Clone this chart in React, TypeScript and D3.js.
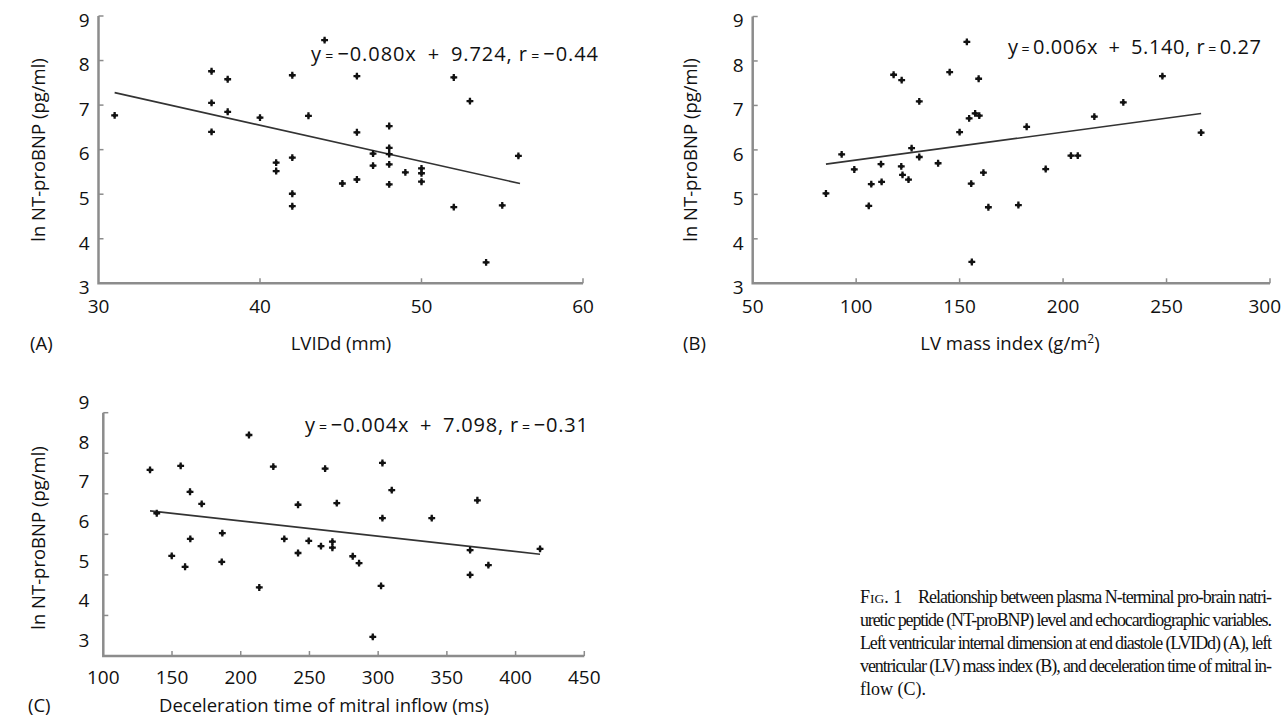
import React from "react";
import * as d3 from "d3";

// panel A: LVIDd (mm) vs ln NT-proBNP
const lvidX = [31, 37, 37, 37, 38, 38, 40, 41, 41, 42, 42, 42, 42, 43, 44, 45.1, 46, 46, 46, 47, 47, 48, 48, 48, 48, 48, 49, 50, 50, 50, 52, 52, 53, 54, 55, 56];
const lvidY = [6.77, 7.76, 7.05, 6.4, 7.58, 6.85, 6.72, 5.71, 5.52, 7.67, 5.82, 5.01, 4.73, 6.76, 8.46, 5.24, 7.65, 6.39, 5.33, 5.91, 5.64, 6.53, 6.04, 5.9, 5.67, 5.22, 5.49, 5.58, 5.47, 5.28, 7.62, 4.71, 7.09, 3.47, 4.75, 5.86];
const lvidFitX = [31, 56.1];
const lvidFitY = [7.28, 5.24];

// panel B: LV mass index (g/m2)
const massX = [85.4, 93, 99.1, 106.1, 107.3, 112, 112.3, 118.1, 122, 121.8, 122.4, 125.3, 126.8, 130.5, 130.5, 139.6, 145.2, 150, 153.5, 154.6, 155.6, 155.9, 157.5, 159.5, 159.2, 161.5, 163.9, 178.4, 182.4, 191.6, 203.8, 207.1, 215.1, 229.1, 248, 266.7];
const massY = [5.02, 5.9, 5.56, 4.74, 5.23, 5.68, 5.28, 7.69, 7.57, 5.63, 5.44, 5.33, 6.04, 5.84, 7.09, 5.7, 7.75, 6.4, 8.43, 6.71, 5.24, 3.48, 6.82, 6.77, 7.6, 5.49, 4.71, 4.76, 6.52, 5.57, 5.87, 5.87, 6.75, 7.07, 7.66, 6.39];
const massFitX = [85.4, 266.7];
const massFitY = [5.68, 6.82];

// panel C: deceleration time (ms)
const decX = [134, 138.9, 149.8, 156.3, 159.5, 163.1, 163.3, 171.6, 186.2, 186.6, 206, 213.5, 223.7, 231.7, 241.7, 241.7, 249.5, 258.4, 261.4, 266.7, 266.7, 269.9, 281.5, 286.1, 296.1, 302.1, 303.1, 303.1, 309.9, 339, 366.9, 366.9, 372.2, 380.2, 417.8];
const decY = [7.59, 6.52, 5.47, 7.69, 5.2, 7.05, 5.89, 6.75, 5.32, 6.03, 8.45, 4.69, 7.67, 5.89, 6.73, 5.54, 5.84, 5.71, 7.62, 5.82, 5.67, 6.77, 5.46, 5.29, 3.47, 4.73, 7.76, 6.4, 7.09, 6.4, 5.61, 5, 6.84, 5.24, 5.64];
const decFitX = [134, 417.8];
const decFitY = [6.58, 5.51];

const yTicks = [3, 4, 5, 6, 7, 8, 9];
const lvidTicks = [30, 40, 50, 60];
const massTicks = [50, 100, 150, 200, 250, 300];
const decTicks = [100, 150, 200, 250, 300, 350, 400, 450];

const captionLines = [
  "uretic peptide (NT-proBNP) level and echocardiographic variables.",
  "Left ventricular internal dimension at end diastole (LVIDd) (A), left",
  "ventricular (LV) mass index (B), and deceleration time of mitral in-",
];

const sans = "'Open Sans', 'Noto Sans', sans-serif";
const serif = "'Liberation Serif', 'Times New Roman', serif";
const axisColor = "#8c8c8c";
const W = 1283;

const Eq = ({ parts }: { parts: string[] }) => (
  <>
    {parts.map((p, i) =>
      p === "=" ? (
        <tspan key={i} fontSize={14}>{"\u2009=\u2009"}</tspan>
      ) : (
        <tspan key={i}>{p}</tspan>
      )
    )}
  </>
);

type PanelProps = {
  xs: number[];
  ys: number[];
  fitX: number[];
  fitY: number[];
  xDomain: [number, number];
  xRange: [number, number];
  yRange: [number, number];
  xTicks: number[];
  labelShift?: [number, number];
  eq: string[];
  eqX: number;
  eqY: number;
  eqW: number;
};

const Panel = (p: PanelProps) => {
  const x = d3.scaleLinear().domain(p.xDomain).range(p.xRange);
  const y = d3.scaleLinear().domain([3, 9]).range(p.yRange);
  // tick labels in panel C sit off the ticks, as in the original figure
  const yl = p.labelShift
    ? d3.scaleLinear().domain([3, 9]).range(p.labelShift)
    : (v: number) => y(v) + 4;
  const x0 = p.xRange[0];
  const yb = p.yRange[0];
  const line = d3
    .line<number>()
    .x((d) => x(d))
    .y((_, i) => y(p.fitY[i]));
  const sym = d3.symbol(d3.symbolCross).size(26)();
  const xLabelGap = p.labelShift ? 28 : 30;
  return (
    <g>
      <path
        d={`M${x0},${p.yRange[1]}V${yb}H${p.xRange[1]}`}
        fill="none"
        stroke={axisColor}
        strokeWidth={2.5}
      />
      {yTicks.slice(1).map((t) => (
        <line key={"yt" + t} x1={x0} x2={x0 + 5} y1={y(t)} y2={y(t)} stroke={axisColor} strokeWidth={1.5} />
      ))}
      {p.xTicks.slice(1).map((t) => (
        <line key={"xt" + t} x1={x(t)} x2={x(t)} y1={yb} y2={yb - 5} stroke={axisColor} strokeWidth={1.5} />
      ))}
      {yTicks.map((t) => (
        <text key={"yl" + t} x={p.labelShift ? x0 - 14 : x0 - 9} y={yl(t)} dy="0.36em" textAnchor="end" fontSize={19}>
          {t}
        </text>
      ))}
      {p.xTicks.map((t) => {
        const cx = x(t);
        const edge = cx + 17 > W;
        return (
          <text
            key={"xl" + t}
            x={edge ? W - 2 : cx}
            y={yb + xLabelGap}
            textAnchor={edge ? "end" : "middle"}
            fontSize={19}
          >
            {t}
          </text>
        );
      })}
      <path d={line(p.fitX) || ""} fill="none" stroke="#333" strokeWidth={1.6} />
      {p.xs.map((v, i) => (
        <g key={i} transform={`translate(${x(v)},${y(p.ys[i])})`}>
          <circle r={1.9} fill="#111" />
          <path d={sym} fill="#111" />
        </g>
      ))}
      <text x={p.eqX} y={p.eqY} fontSize={20} textLength={p.eqW} lengthAdjust="spacing">
        <Eq parts={p.eq} />
      </text>
    </g>
  );
};

const App = () => {
  return (
    <svg
      width={W}
      height={719}
      style={{ position: "absolute", left: 0, top: 0, background: "#fff" }}
      fontFamily={sans}
      fill="#111"
    >
      <Panel
        xs={lvidX}
        ys={lvidY}
        fitX={lvidFitX}
        fitY={lvidFitY}
        xDomain={[30, 60]}
        xRange={[98.5, 583]}
        yRange={[283.3, 16]}
        xTicks={lvidTicks}
        eq={["y", "=", "\u22120.080x\u2002+\u20029.724, r", "=", "\u22120.44"]}
        eqX={311}
        eqY={61}
        eqW={287}
      />
      <Panel
        xs={massX}
        ys={massY}
        fitX={massFitX}
        fitY={massFitY}
        xDomain={[50, 300]}
        xRange={[752.7, 1270]}
        yRange={[283.3, 16.5]}
        xTicks={massTicks}
        eq={["y", "=", "0.006x\u2002+\u20025.140, r", "=", "0.27"]}
        eqX={1008}
        eqY={54}
        eqW={253}
      />
      <Panel
        xs={decX}
        ys={decY}
        fitX={decFitX}
        fitY={decFitY}
        xDomain={[100, 450]}
        xRange={[103.3, 584.3]}
        yRange={[656, 412.7]}
        xTicks={decTicks}
        labelShift={[640, 402]}
        eq={["y", "=", "\u22120.004x\u2002+\u20027.098, r", "=", "\u22120.31"]}
        eqX={305}
        eqY={432}
        eqW={283}
      />

      {/* axis titles */}
      <text transform="translate(45,150) rotate(-90)" textAnchor="middle" fontSize={18.5}>ln NT-proBNP (pg/ml)</text>
      <text transform="translate(697,150) rotate(-90)" textAnchor="middle" fontSize={18.5}>ln NT-proBNP (pg/ml)</text>
      <text transform="translate(45,538) rotate(-90)" textAnchor="middle" fontSize={18.5}>ln NT-proBNP (pg/ml)</text>
      <text x={341} y={350} textAnchor="middle" fontSize={18.5}>LVIDd (mm)</text>
      <text x={1010} y={350} textAnchor="middle" fontSize={18.5}>
        LV mass index (g/m<tspan fontSize={12} dy={-7}>2</tspan><tspan dy={7}>)</tspan>
      </text>
      <text x={324} y={712} textAnchor="middle" fontSize={18.5}>Deceleration time of mitral inflow (ms)</text>
      <text x={30} y={350} fontSize={18.5}>(A)</text>
      <text x={683} y={350} fontSize={18.5}>(B)</text>
      <text x={28} y={712} fontSize={18.5}>(C)</text>

      {/* caption */}
      <g fontFamily={serif} fontSize={18}>
        <text x={860} y={603}>
          F<tspan fontSize={13.5}>IG</tspan>. 1
        </text>
        <text x={918} y={603} textLength={354} lengthAdjust="spacing">
          Relationship between plasma N-terminal pro-brain natri-
        </text>
        {captionLines.map((l, i) => (
          <text key={i} x={860} y={626 + i * 23} textLength={412} lengthAdjust="spacing">
            {l}
          </text>
        ))}
        <text x={860} y={695}>flow (C).</text>
      </g>
    </svg>
  );
};

export default App;
